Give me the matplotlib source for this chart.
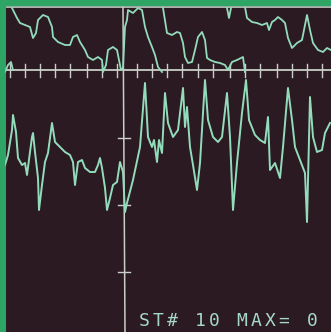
import numpy as np
import matplotlib
matplotlib.use("Agg")
import matplotlib.pyplot as plt

# Upper trace (screen samples, x and y in screen units), segments separated by None
top_x = [12, 17, 20, 25, 30, 33, 36, 38, 43, 48, 52, 53, 58, 65, 70, 73, 77, 80, 85, 88, 93, 98, 102, 103,
         106, 108, 113, 117, 119, 121, 123, 125, 127, 128, 133, 138, 142, 145, 148, 152, 155, 158, 162, None,
         163, 167, 172, 177, 180, 183, 185, 188, 192, 195, 198, 202, 205, 207, 210, 215, 220, 225, 228, 232,
         237, 243, 245, None,
         227, 229, 231, None,
         245, 247, 252, 257, 262, 267, 269, 272, 275, 278, 282, 285, 288, 292, 297, 302, 305, 307, 310, 313,
         318, 323, 327, 331, None,
         5, 8, 11, 13]
top_y = [8, 18, 23, 25, 27, 38, 33, 20, 15, 17, 27, 37, 42, 45, 45, 37, 35, 42, 50, 57, 60, 57, 60, 72,
         65, 50, 47, 50, 60, 70, 68, 27, 20, 10, 13, 8, 10, 27, 37, 47, 55, 67, 72, None,
         8, 33, 35, 32, 33, 43, 57, 63, 62, 50, 37, 32, 40, 58, 60, 62, 63, 65, 70, 62,
         60, 57, 72, None,
         8, 18, 8, None,
         7, 18, 22, 23, 25, 23, 30, 22, 20, 17, 20, 23, 38, 48, 43, 40, 25, 15, 30, 43,
         50, 52, 48, 50, None,
         72, 65, 62, 70]

# Lower trace
low_x = [5, 8, 12, 13, 16, 18, 22, 25, 27, 30, 32, 33, 35, 38, 39, 42, 45, 48, 52, 55, 60, 65, 70, 73, 75,
         78, 82, 85, 90, 95, 98, 100, 102, 105, 107, 110, 113, 117, 120, 123, 125, 127, 133, 140, 145, 148,
         152, 154, 157, 159, 162, 165, 168, 173, 178, 183, 185, 187, 190, 193, 197, 200, 205, 208, 213, 218,
         222, 227, 230, 233, 237, 242, 246, 249, 255, 260, 265, 268, 270, 275, 280, 283, 288, 292, 295, 300,
         305, 307, 310, 313, 317, 322, 325, 330]
low_y = [165, 155, 130, 115, 132, 158, 165, 163, 175, 152, 137, 133, 152, 178, 210, 185, 162, 153, 123, 142,
         147, 152, 155, 162, 185, 162, 160, 168, 172, 172, 165, 158, 168, 188, 210, 198, 185, 182, 162, 172,
         212, 203, 180, 147, 83, 137, 147, 140, 162, 140, 153, 93, 123, 137, 130, 88, 127, 107, 147, 165,
         190, 163, 80, 120, 137, 142, 137, 93, 137, 210, 163, 113, 80, 120, 135, 140, 143, 117, 170, 163,
         178, 147, 88, 120, 147, 160, 173, 222, 97, 137, 152, 150, 133, 123]

h_ticks = [10, 25, 40, 55, 70, 87, 102, 117, 137, 152, 167, 182, 198, 213, 230, 245, 260, 277, 292, 307, 322]
v_ticks = [138, 205, 272]
label = "ST# 10 MAX= 0"

BG = "#2c1a23"
TRACE = "#92dcbc"
AXIS = "#c9cfc8"
GREEN = "#2ea565"

fig = plt.figure(figsize=(3.31, 3.32), dpi=100)
fig.patch.set_facecolor(BG)
ax = fig.add_axes([0, 0, 1, 1])
ax.set_facecolor(BG)
ax.set_xlim(0, 331)
ax.set_ylim(332, 0)
ax.axis("off")

def seg(xs, ys):
    return [np.nan if v is None else v for v in xs], [np.nan if v is None else v for v in ys]

# frame: green border and white top line
ax.axhspan(0, 4.5, color=GREEN, zorder=5)
ax.axvspan(0, 3.5, color=GREEN, zorder=5)
ax.plot([3.5, 331], [7, 7], color=AXIS, lw=1.2, zorder=3)
ax.plot([4.5, 4.5], [4.5, 332], color="#6a7f70", lw=0.8, zorder=3)

# axes
ax.plot([4, 331], [70, 70], color=AXIS, lw=1.3, zorder=2)
for t in h_ticks:
    ax.plot([t, t], [64, 77], color=AXIS, lw=1.0, zorder=2)
ax.plot([123, 125], [7, 332], color=AXIS, lw=1.1, zorder=2)
for t in v_ticks:
    ax.plot([118, 130], [t, t], color=AXIS, lw=1.0, zorder=2)

tx, ty = seg(top_x, top_y)
ax.plot(tx, ty, color=TRACE, lw=1.3, zorder=4)
ax.plot(low_x, low_y, color=TRACE, lw=1.4, zorder=4)

# monospaced readout with wide character pitch
pitch = 14.0
for i, ch in enumerate(label):
    if ch != " ":
        ax.text(139 + i * pitch + 5, 326, ch, color="#a6d8c8", fontsize=13,
                family="DejaVu Sans Mono", ha="center", va="baseline", zorder=6)

fig.savefig("out.png", dpi=100, facecolor=BG)
